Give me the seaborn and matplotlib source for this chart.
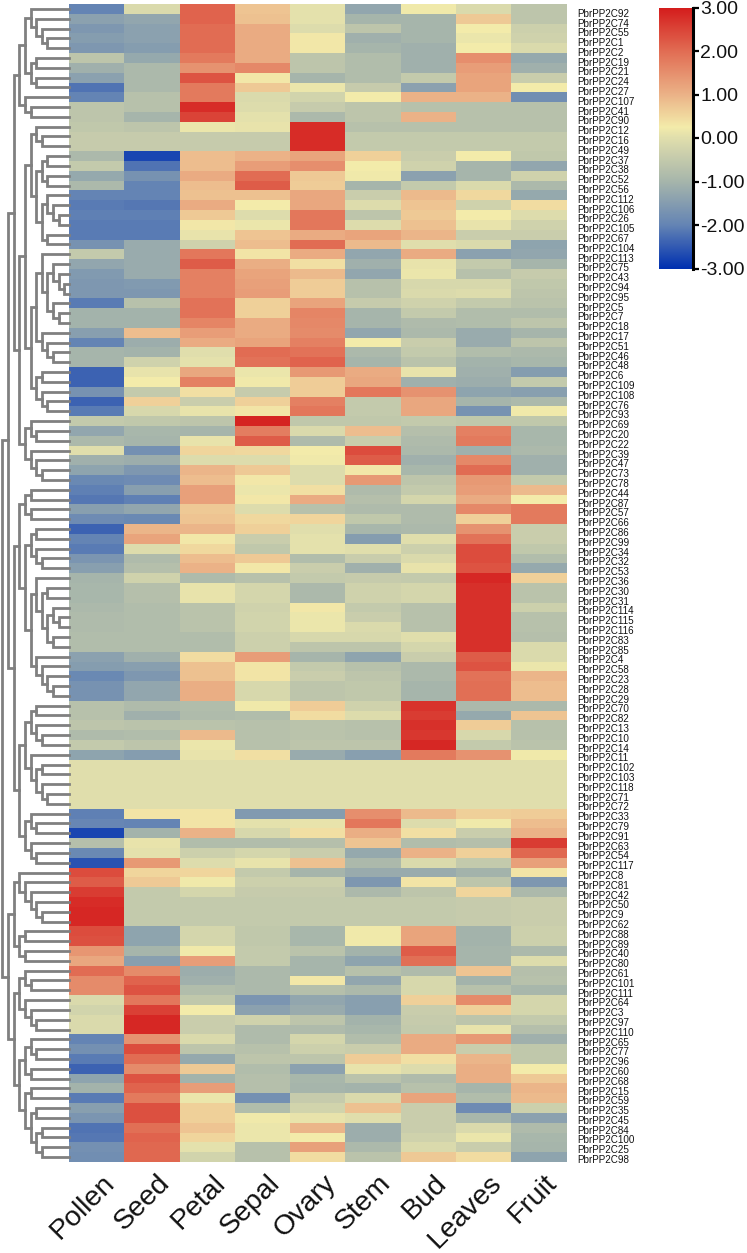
import numpy as np
import pandas as pd
import seaborn as sns
import matplotlib
matplotlib.use("Agg")
import matplotlib.pyplot as plt
from matplotlib.colors import LinearSegmentedColormap
from matplotlib.transforms import ScaledTranslation

tissues = ["Pollen", "Seed", "Petal", "Sepal", "Ovary", "Stem", "Bud", "Leaves", "Fruit"]
gene_numbers = [92,74,55,1,2,19,21,24,27,107,41,90,12,16,49,37,38,52,56,112,106,26,105,67,104,113,75,43,94,95,
                5,7,18,17,51,46,48,6,109,108,76,93,69,20,22,39,47,73,78,44,87,57,66,86,99,34,32,53,36,30,
                31,114,115,116,83,85,4,58,23,28,29,70,82,13,10,14,11,102,103,118,71,72,33,79,91,63,54,117,
                8,81,42,50,9,62,88,89,40,80,61,101,111,64,3,97,110,65,77,96,60,68,15,59,35,45,84,100,25,98]
genes = [f"PbrPP2C{n}" for n in gene_numbers]

block_a = [
 [-2.0,-0.1,2.1,0.75,0.05,-1.3,0.2,-0.1,-0.6],
 [-1.4,-1.3,2.1,0.8,0.05,-1.0,-1.0,0.7,-0.6],
 [-1.6,-1.4,2.0,1.1,-0.05,-0.6,-1.0,0.25,-0.35],
 [-1.5,-1.4,2.0,1.1,0.3,-1.1,-1.0,0.15,-0.3],
 [-1.6,-1.5,2.0,1.1,0.3,-1.0,-1.1,0.25,-0.1],
 [-0.6,-1.25,1.8,1.1,-0.6,-0.8,-1.1,1.5,-1.25],
 [-1.1,-0.9,1.45,1.6,-0.6,-0.8,-1.1,1.3,-1.1],
 [-1.4,-0.9,2.3,0.3,-1.0,-0.8,-0.5,1.2,-0.4],
 [-2.2,-0.9,1.8,0.7,0.15,-0.45,-1.4,1.2,0.25],
 [-2.0,-0.7,1.8,-0.1,-0.25,0.25,1.0,1.0,-1.8],
 [-0.6,-0.7,2.8,-0.05,-0.45,-0.6,-0.7,-0.7,-0.7],
 [-0.6,-1.0,2.5,0.05,-0.9,-0.6,1.0,-0.7,-0.7],
]
block_b = [
 [-0.55,-0.6,0.15,0.1,2.8,-0.7,-0.7,-0.7,-0.7],
 [-0.45,-0.45,-0.45,-0.45,2.8,-0.5,-0.5,-0.5,-0.5],
 [-0.45,-0.45,-0.45,-0.45,2.8,-0.5,-0.5,-0.5,-0.5],
 [-0.9,-2.75,0.85,1.0,1.2,0.6,-0.4,0.25,-0.55],
 [-0.5,-2.2,0.85,1.3,1.5,0.25,-0.3,-1.0,-1.3],
 [-1.25,-1.7,1.1,2.0,0.7,0.2,-1.4,-1.0,-0.3],
 [-0.9,-2.0,0.85,2.2,0.65,-1.0,-0.5,-0.1,-0.9],
 [-2.0,-2.0,0.8,0.8,1.15,-0.4,0.9,0.5,-1.25],
 [-2.1,-2.15,1.1,0.25,1.15,-0.05,0.75,-0.3,0.45],
 [-2.05,-2.05,0.7,-0.05,1.85,-0.6,0.7,0.25,-0.05],
 [-2.1,-2.1,0.3,0.15,1.85,-0.05,0.8,0.1,-0.3],
 [-2.1,-2.1,0.1,0.75,1.1,1.2,0.95,-0.4,-0.4],
 [-1.7,-1.2,-0.3,0.85,2.0,0.9,0.0,-0.1,-1.35],
 [-0.5,-1.2,1.85,0.35,1.1,-1.3,1.1,-1.4,-1.3],
 [-1.3,-1.2,2.2,1.05,0.4,-1.1,0.1,-0.5,-1.0],
 [-1.55,-1.2,1.7,1.2,0.9,-1.3,0.15,-0.7,-0.45],
 [-1.6,-1.55,1.7,1.25,0.65,-0.7,-0.15,-0.15,-0.55],
 [-1.6,-1.6,1.7,1.3,0.65,-0.7,-0.1,-0.05,-0.6],
 [-2.1,-0.7,1.9,0.6,1.2,-0.45,-0.3,-0.5,-0.65],
 [-1.05,-1.05,1.9,0.6,1.65,-1.0,-0.5,-0.8,-0.8],
 [-1.05,-1.05,1.65,1.1,1.6,-1.0,-0.85,-0.8,-0.6],
 [-1.45,0.85,1.3,1.1,1.55,-1.3,-0.9,-1.2,-1.0],
 [-2.0,-1.15,1.1,1.2,1.7,0.25,-0.4,-1.2,-0.6],
 [-1.0,-1.05,0.0,2.0,1.9,-0.9,-0.5,-0.8,-0.9],
 [-1.0,-0.3,0.05,1.9,2.1,-1.0,-0.65,-1.05,-0.95],
 [-2.4,0.1,1.15,0.15,1.35,1.1,0.1,-1.1,-1.5],
 [-2.4,0.25,1.7,0.2,0.65,1.15,-1.1,-1.15,-0.5],
 [-1.7,-0.5,0.4,-0.45,0.65,1.85,1.45,-1.35,-1.45],
 [-2.4,0.6,-0.4,0.6,1.7,-0.5,1.15,-1.0,-0.9],
 [-2.1,-0.15,0.1,0.35,1.85,-0.5,1.15,-1.7,0.2],
 [-0.5,-0.55,-0.6,2.9,-0.55,-0.55,-0.5,-0.55,-0.55],
 [-1.3,-0.95,-1.0,1.75,-0.1,0.85,-0.75,1.7,-0.95],
 [-0.9,-1.0,0.1,2.2,-0.85,-0.4,-0.85,1.8,-0.95],
 [0.0,-1.75,0.55,0.5,0.25,2.4,-0.9,-1.1,-0.9],
 [-1.1,-1.15,-0.05,-0.05,0.2,2.2,-1.1,1.6,-1.1],
 [-1.35,-1.6,0.95,0.7,-0.05,0.3,-0.95,2.0,-1.1],
 [-1.9,-1.85,0.85,0.3,-0.05,1.35,-0.6,1.35,-0.5],
]
block_c = [
 [-2.05,-1.45,1.25,0.15,0.4,-0.85,-0.5,1.3,0.9],
 [-2.15,-2.05,1.25,0.3,1.1,-0.75,-0.2,1.1,0.25],
 [-1.45,-1.3,0.7,-0.05,-0.7,-0.85,-0.85,1.6,1.8],
 [-1.85,-1.9,0.75,0.5,0.55,-0.55,-0.85,0.6,1.8],
 [-2.4,0.95,0.95,0.6,0.0,-0.95,-0.9,1.45,-0.4],
 [-2.0,1.2,0.3,-0.4,0.05,-1.5,0.0,1.9,-0.4],
 [-2.1,-0.05,0.5,-0.55,0.05,0.0,-0.35,2.4,-0.55],
 [-1.65,-0.85,0.85,0.7,-0.8,-0.4,-0.1,2.4,-0.8],
 [-1.45,-0.75,1.0,0.3,-0.4,-1.1,0.1,2.3,-1.25],
 [-1.0,-0.3,-0.85,-0.7,-0.5,-0.45,-0.5,2.85,0.6],
 [-0.95,-0.75,0.1,-0.2,-0.9,-0.3,-0.2,2.75,-0.65],
 [-0.95,-0.75,0.1,-0.2,-0.9,-0.3,-0.2,2.75,-0.65],
 [-0.9,-0.8,-0.65,-0.3,0.3,-0.5,-0.7,2.75,-0.35],
 [-0.85,-0.8,-0.65,-0.25,0.15,-0.4,-0.7,2.75,-0.7],
 [-0.85,-0.8,-0.65,-0.25,0.15,-0.1,-0.7,2.75,-0.7],
 [-0.8,-0.8,-0.8,-0.35,-0.15,-0.15,0.0,2.75,-0.75],
 [-0.8,-0.8,-0.8,-0.35,-0.6,-0.6,-0.2,2.75,-0.1],
 [-1.4,-1.1,0.45,1.3,-1.0,-1.35,-0.4,2.2,-0.1],
 [-1.5,-1.45,0.8,0.35,-0.5,-0.7,-0.9,2.3,0.15],
 [-1.9,-1.6,0.8,0.35,-0.4,-0.6,-0.9,1.9,0.95],
 [-1.7,-1.3,1.05,-0.15,-0.6,-0.55,-1.0,1.95,0.85],
 [-1.7,-1.3,1.05,-0.15,-0.6,-0.55,-1.0,1.95,0.85],
]
block_d = [
 [-0.7,-0.85,-0.8,0.2,0.65,-0.3,2.7,-0.9,-0.9],
 [-0.7,-1.1,-0.85,-0.8,0.45,-0.05,2.6,-1.25,0.75],
 [-0.6,-0.65,-0.65,-0.7,-0.65,-0.7,2.75,0.65,-0.7],
 [-0.85,-0.8,0.9,-0.7,-0.65,-0.7,2.65,-0.15,-0.7],
 [-0.5,-0.6,0.15,-0.7,-0.6,-0.6,2.85,-0.5,-0.65],
 [-1.35,-1.5,0.1,0.4,-1.2,-1.45,1.8,1.45,0.2],
 [0,0,0,0,0,0,0,0,0],
 [0,0,0,0,0,0,0,0,0],
 [0,0,0,0,0,0,0,0,0],
 [0,0,0,0,0,0,0,0,0],
 [0,0,0,0,0,0,0,0,0],
 [-2.05,0.35,0.35,-1.55,-1.5,1.5,0.9,0.6,0.65],
 [-1.95,-2.0,0.35,0.05,0.1,1.85,-0.05,0.2,0.85],
 [-2.75,-1.05,1.0,-0.15,0.4,1.05,0.4,-0.4,1.0],
 [-0.75,0.1,-0.8,-0.8,-0.75,0.75,-0.8,-0.75,2.6],
 [-1.9,0.05,-0.35,-0.2,-0.4,-1.25,1.0,0.6,2.05],
 [-2.6,1.35,-0.05,0.1,0.8,-0.9,-0.1,-0.5,1.25],
]
block_e = [
 [2.4,0.55,0.55,-0.5,-1.0,-1.2,-1.2,-1.05,0.35],
 [2.2,0.7,0.2,-0.35,-0.35,-1.6,0.35,-0.6,-1.6],
 [2.6,-0.5,-0.2,-0.45,-0.45,-0.9,-0.6,0.55,-0.9],
 [2.8,-0.5,-0.5,-0.5,-0.5,-0.5,-0.5,-0.45,-0.4],
 [2.85,-0.5,-0.5,-0.5,-0.5,-0.5,-0.5,-0.45,-0.4],
 [2.85,-0.5,-0.5,-0.5,-0.5,-0.5,-0.5,-0.45,-0.4],
 [2.4,-1.35,-0.2,-0.55,-0.95,0.2,1.2,-1.05,-0.35],
 [2.35,-1.35,-0.2,-0.55,-0.95,0.2,1.2,-1.05,-0.35],
 [1.4,-1.0,0.2,-0.5,-0.65,-1.05,2.2,-1.0,-0.9],
 [1.15,-1.45,1.3,-0.5,-1.0,-1.35,1.95,-1.0,-0.05],
]
block_f = [
 [2.0,1.55,-1.15,-0.9,-1.0,-0.7,-0.85,0.75,-0.75],
 [1.55,2.1,-1.1,-0.9,0.3,-1.3,-0.15,-1.05,-0.7],
 [1.55,2.3,-0.8,-0.9,-0.75,-0.9,-0.15,-0.7,-0.95],
 [-0.1,1.85,-0.55,-1.65,-1.3,-1.45,0.6,1.55,-0.2],
 [-0.25,2.55,0.25,-1.4,-1.2,-1.45,-0.4,0.6,-0.2],
 [-0.1,2.85,-0.4,-0.3,-0.6,-1.05,-0.45,-0.6,-0.5],
 [-0.1,2.85,-0.4,-0.85,-0.85,-0.95,-0.5,0.1,-0.75],
 [-2.0,1.45,-0.1,-0.85,-0.2,-0.8,1.1,1.35,-1.1],
 [-1.75,2.4,-0.6,-0.7,-0.35,-0.4,1.1,-0.4,-0.55],
 [-2.1,2.0,-1.25,-0.6,-0.6,0.65,0.4,0.95,-0.55],
 [-2.4,1.55,0.7,-0.8,-1.4,0.1,-0.05,1.05,0.25],
 [-1.35,2.3,-1.05,-0.75,-0.95,-0.65,-0.85,1.05,0.7],
 [-1.05,2.1,1.3,-0.75,-1.0,-1.05,-0.7,-1.0,0.95],
 [-2.1,1.8,0.15,-1.75,-0.45,-0.1,1.2,-0.8,0.9],
 [-1.45,2.35,0.6,-0.8,-0.25,0.8,-0.4,-1.85,-0.35],
 [-1.65,2.35,0.6,0.2,0.1,0.0,-0.4,-0.95,-1.4],
 [-2.2,1.95,0.75,0.15,0.95,-1.15,-0.4,-0.1,-0.85],
 [-2.15,2.1,0.55,0.15,0.25,-1.15,-0.3,0.15,-0.95],
 [-1.75,2.05,0.05,-0.7,1.25,-0.9,-0.1,-0.4,-1.0],
 [-1.8,2.05,-0.25,-0.7,0.45,-0.65,0.7,0.45,-1.35],
]

# Row clustering as nested pairs of row indices; depth in the nesting sets the dendrogram level.
tree_a = [[[0,[1,[2,[3,4]]]], [[5,6],[7,8]]], [9,[10,11]]]
tree_b = [[[[12,[13,14]], [[[15,16],[17,18]], [[19,[20,[21,22]]],[23,24]]]],
           [[[25,[[26,[27,[28,29]]],[30,[31,32]]]], [33,[34,[35,36]]]], [[37,38],[39,[40,41]]]]],
          [[42,[43,44]], [45,[46,[47,48]]]]]
tree_c = [[[49,50],[51,52]],
          [[[53,54],[55,[56,57]]],
           [[58,[[59,60],[[61,[62,63]],[64,65]]]], [66,[67,[68,[69,70]]]]]]]
tree_d = [[[[71,72],[73,[74,75]]], [76,[[77,78],[79,[80,81]]]]],
          [[82,[83,84]], [85,[86,87]]]]
tree_e = [[88,[89,[90,[91,[92,93]]]]], [[94,95],[96,97]]]
tree_f = [[[98,[99,100]], [101,[102,[103,104]]]],
          [[[105,[106,107]],[108,109]], [[110,111],[[112,113],[[114,115],[116,117]]]]]]
row_tree = [[[tree_a, tree_b], [tree_c, tree_d]], [tree_e, tree_f]]

colour_stops = [(-3.0, "#0030b0"), (-2.0, "#6484b4"), (-1.0, "#a6b5ab"), (0.0, "#e0deac"),
                (0.25, "#f3ebaa"), (1.0, "#ebb287"), (2.0, "#e16c53"), (3.0, "#d41c1c")]
cbar_ticks = [3, 2, 1, 0, -1, -2, -3]

sns.set_theme(style="white")
plt.rcParams["font.family"] = ["Liberation Sans", "DejaVu Sans"]
plt.rcParams["axes.unicode_minus"] = False

W, H = 747, 1253
def px_axes(fig, x0, y0, x1, y1):
    return fig.add_axes([x0 / W, 1 - y1 / H, (x1 - x0) / W, (y1 - y0) / H])

fig = plt.figure(figsize=(W / 100, H / 100), dpi=100, facecolor="white")
ax = px_axes(fig, 69, 4, 566.5, 1162)
cax = px_axes(fig, 659, 7.5, 692.5, 268.5)
dax = px_axes(fig, 0, 4, 69, 1162)

matrix = pd.DataFrame(np.vstack([block_a, block_b, block_c, block_d, block_e, block_f]),
                      index=genes, columns=tissues)
cmap = LinearSegmentedColormap.from_list(
    "expr", [((v + 3) / 6, c) for v, c in colour_stops], N=512)

sns.heatmap(matrix, ax=ax, cmap=cmap, vmin=-3, vmax=3, cbar_ax=cax,
            xticklabels=True, yticklabels=True,
            cbar_kws={"ticks": cbar_ticks, "format": "%.2f"})

# Row labels, right side
ax.yaxis.tick_right()
ax.tick_params(axis="y", length=0, pad=10.5 * 0.72, labelsize=7.1, labelcolor="#111111", rotation=0)
n_rows = len(genes)
for i, lab in enumerate(ax.get_yticklabels()):
    lab.set_rotation(0)
    lab.set_ha("left")
    lab.set_transform(lab.get_transform() + ScaledTranslation(0, -(3.8 - 1.8 * i / (n_rows - 1)) / 100, fig.dpi_scale_trans))

# Column labels
ax.tick_params(axis="x", length=0, pad=0, labelsize=20.5, labelcolor="#111111")
for lab in ax.get_xticklabels():
    lab.set_rotation(45)
    lab.set_rotation_mode("anchor")
    lab.set_ha("right")
    lab.set_va("center")
    lab.set_transform(lab.get_transform() + ScaledTranslation(14 / 100, -17 / 100, fig.dpi_scale_trans))

# Colour bar
cbar = ax.collections[0].colorbar
cbar.outline.set_visible(False)
cax.spines["right"].set_visible(True)
cax.spines["right"].set_color("black")
cax.spines["right"].set_linewidth(2.2)
cax.yaxis.set_ticks_position("right")
cax.tick_params(axis="y", length=4, width=1.6, color="black", pad=1.5, labelsize=14, labelcolor="#111111", right=True)

# Dendrogram
step = 5.65
dax.set_xlim(-2.3 / step, (69 - 2.3) / step)
dax.set_ylim(n_rows, 0)
dax.axis("off")
leaf_x = dax.get_xlim()[1]
line_kw = dict(color="#808080", lw=2.0, solid_capstyle="projecting", solid_joinstyle="miter", clip_on=False)

def draw(node, depth):
    """Draw one merge and return the vertical position of its stem."""
    if not isinstance(node, list):
        return node + 0.5, leaf_x
    ys, xs = zip(*[draw(child, depth + 1) for child in node])
    dax.plot([xs[0], depth, depth, xs[1]], [ys[0], ys[0], ys[1], ys[1]], **line_kw)
    return sum(ys) / 2, depth

draw(row_tree, 0)

fig.savefig("out.png", dpi=100)
